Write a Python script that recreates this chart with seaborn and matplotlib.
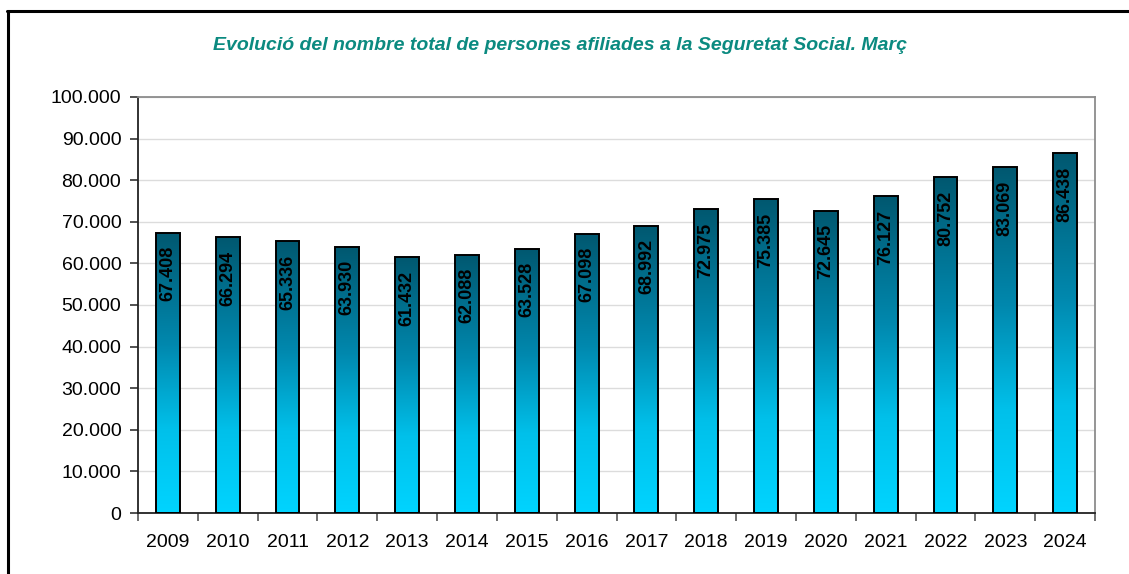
import numpy as np
import pandas as pd
import matplotlib
matplotlib.use("Agg")
import matplotlib.pyplot as plt
from matplotlib.colors import LinearSegmentedColormap
from matplotlib.lines import Line2D
from matplotlib.ticker import FuncFormatter, MultipleLocator, FixedLocator
import seaborn as sns

years = ["2009", "2010", "2011", "2012", "2013", "2014", "2015", "2016",
         "2017", "2018", "2019", "2020", "2021", "2022", "2023", "2024"]
afiliats = [67408, 66294, 65336, 63930, 61432, 62088, 63528, 67098,
            68992, 72975, 75385, 72645, 76127, 80752, 83069, 86438]
title = "Evolució del nombre total de persones afiliades a la Seguretat Social. Març"

sns.set_theme(style="white")
plt.rcParams['font.family'] = ['Liberation Sans', 'DejaVu Sans']

df = pd.DataFrame({"any": years, "afiliats": afiliats})

fig = plt.figure(figsize=(11.29, 5.74), dpi=100)
ax = fig.add_axes([138/1129, 1-513/574, (1095-138)/1129, (513-97)/574])

sns.barplot(data=df, x="any", y="afiliats", ax=ax, width=0.4,
            color="#00a0c8", edgecolor="black", linewidth=1.4, zorder=3)

cmap = LinearSegmentedColormap.from_list(
    "g", [(0.0, "#00d4ff"), (0.3, "#00c0ea"), (0.6, "#0088ae"), (1.0, "#005870")])
grad = np.linspace(0, 1, 256).reshape(-1, 1)
ax.set_xlim(-0.5, len(years) - 0.5)
ax.set_ylim(0, 100000)
for p in ax.patches:
    x0, w, h = p.get_x(), p.get_width(), p.get_height()
    p.set_facecolor("none")
    im = ax.imshow(grad, extent=[x0, x0 + w, 0, h], origin="lower",
                   cmap=cmap, aspect="auto", zorder=2.5)
    im.set_clip_path(p)
    ax.annotate(f"{int(h):,}".replace(",", "."), (x0 + w / 2, h),
                xytext=(0, -9.5), textcoords="offset points",
                rotation=90, ha="center", va="top",
                fontsize=13, fontweight="bold", color="black", zorder=4)
ax.set_xlim(-0.5, len(years) - 0.5)
ax.set_ylim(0, 100000)
ax.set_aspect("auto")

ax.yaxis.set_major_locator(MultipleLocator(10000))
ax.yaxis.set_major_formatter(FuncFormatter(lambda v, _: f"{int(v):,}".replace(",", ".")))
ax.grid(axis="y", color="#dcdcdc", linewidth=1, zorder=0)
ax.set_axisbelow(True)

ax.xaxis.set_minor_locator(FixedLocator(np.arange(-0.5, len(years), 1.0)))
ax.tick_params(axis="x", which="major", length=0, pad=15, labelsize=14, colors="black")
ax.tick_params(axis="x", which="minor", length=6, width=1.2, color="#555555", direction="out", bottom=True)
ax.tick_params(axis="y", which="major", length=6, width=1.2, color="#333333", direction="out",
               left=True, labelsize=14, labelcolor="black", pad=6)

ax.set_xlabel("")
ax.set_ylabel("")

for s in ["left", "bottom"]:
    ax.spines[s].set_color("#222222")
    ax.spines[s].set_linewidth(1.3)
for s in ["top", "right"]:
    ax.spines[s].set_color("#8c8c8c")
    ax.spines[s].set_linewidth(1.3)

fig.text(560 / 1129, 1 - 45 / 574, title, ha="center", va="center",
         fontsize=14, fontweight="bold", fontstyle="italic", color="#0b8a80")

fig.add_artist(Line2D([7.5/1129, 7.5/1129], [0, 1 - 11/574], transform=fig.transFigure,
                      color="black", linewidth=2.2))
fig.add_artist(Line2D([6.5/1129, 1], [1 - 11/574, 1 - 11/574], transform=fig.transFigure,
                      color="black", linewidth=2.2))

fig.savefig("out.png", dpi=100)
